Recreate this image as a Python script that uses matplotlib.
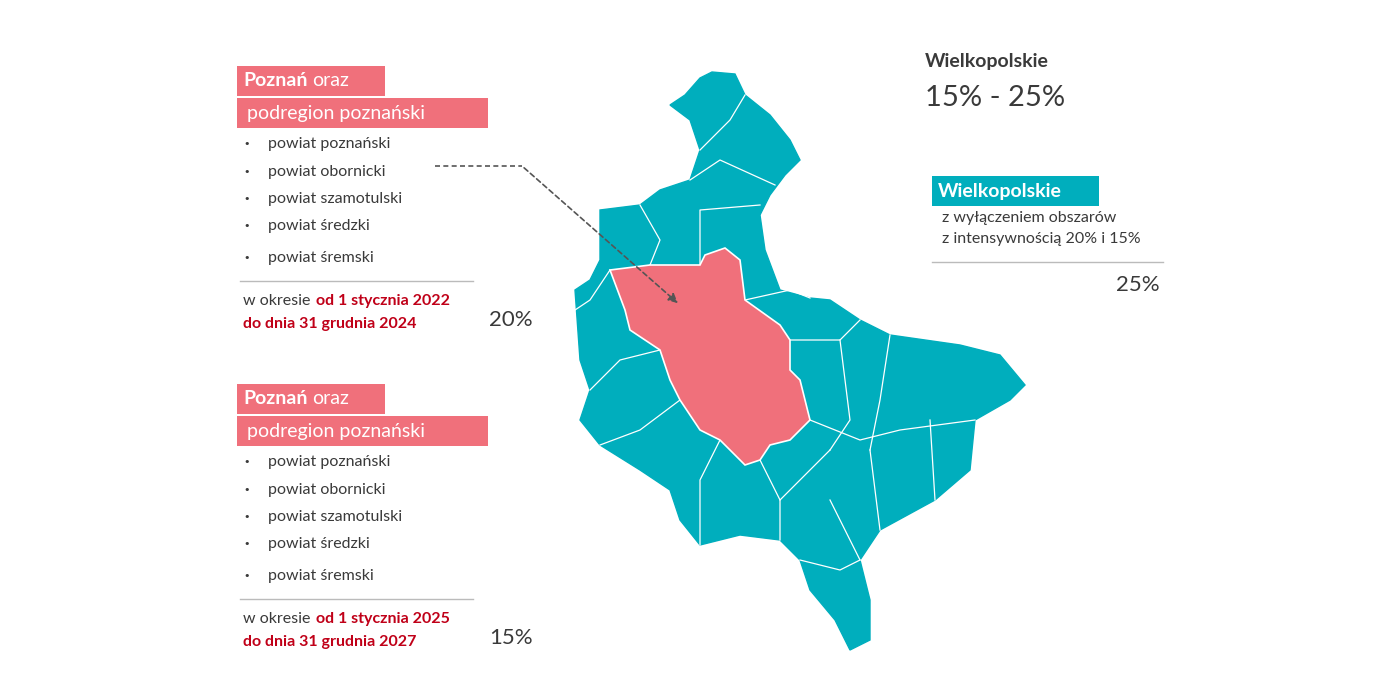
import matplotlib
matplotlib.use("Agg")
import matplotlib.pyplot as plt
from matplotlib.patches import Polygon, FancyArrowPatch

TEAL = "#00AEBD"; PINK = "#F0707B"; RED = "#C00018"; DARK = "#3a3a3a"
FONT = "Lato"

# map shapes (pixel space)
region_outline = [(700,78),(712,72),(735,74),(745,95),(770,115),(790,140),(800,160),(785,175),(770,195),
    (760,215),(765,250),(780,290),(810,298),(830,300),(860,320),(890,335),(960,345),(1000,355),(1025,385),
    (1010,400),(975,420),(970,470),(935,500),(880,530),(860,560),(870,600),(870,640),(850,650),(835,620),
    (810,590),(800,560),(780,540),(740,535),(700,545),(680,520),(670,490),(640,470),(600,445),(580,420),
    (590,390),(580,360),(575,290),(590,280),(600,260),(600,210),(640,205),(660,190),(690,180),(700,150),
    (690,120),(670,105),(685,95)]
poznan_area = [(610,270),(650,265),(700,265),(705,255),(725,248),(740,260),(745,300),(780,325),(790,340),
    (790,370),(800,380),(810,420),(790,440),(770,445),(760,460),(745,465),(720,440),(700,430),(680,400),
    (670,380),(660,350),(630,330),(625,310)]
borders = [
    [(690,180),(720,160),(775,185)], [(700,150),(730,120),(745,95)], [(640,205),(660,240),(650,265)],
    [(700,265),(700,210),(760,205)], [(745,300),(790,290),(810,298)], [(790,340),(840,340),(860,320)],
    [(890,335),(880,400),(870,450)], [(840,340),(850,420),(830,450)], [(810,420),(860,440),(900,430),(975,420)],
    [(870,450),(880,530)], [(760,460),(780,500),(780,540)], [(720,440),(700,480),(700,545)],
    [(680,400),(640,430),(600,445)], [(660,350),(620,360),(590,390)], [(610,270),(590,300),(575,310)],
    [(830,450),(800,480),(780,500)], [(830,500),(860,560)], [(800,560),(840,570),(860,560)], [(930,420),(935,500)]]

bullets = ["powiat poznański", "powiat obornicki", "powiat szamotulski", "powiat średzki", "powiat śremski"]
bullet_dy = [0, 28, 55, 82, 114]
periods = [("od 1 stycznia 2022", "do dnia 31 grudnia 2024", "20%"),
           ("od 1 stycznia 2025", "do dnia 31 grudnia 2027", "15%")]
block_y = [80, 398]

fig = plt.figure(figsize=(13.86, 6.93), dpi=100)
ax = fig.add_axes([0, 0, 1, 1]); ax.set_xlim(0, 1386); ax.set_ylim(693, 0); ax.axis("off")
r = fig.canvas.get_renderer()

ax.add_patch(Polygon(region_outline, closed=True, fc=TEAL, ec=TEAL, lw=1))
ax.add_patch(Polygon(poznan_area, closed=True, fc=PINK, ec="white", lw=1.2, zorder=3))
for b in borders:
    xs, ys = zip(*b); ax.plot(xs, ys, color="white", lw=0.9, zorder=2)

def width(t):
    bb = t.get_window_extent(r); inv = ax.transData.inverted()
    return inv.transform((bb.x1, 0))[0]

for y0, (p1, p2, pct) in zip(block_y, periods):
    ax.add_patch(plt.Rectangle((237, y0 - 14), 148, 30, fc=PINK, ec="none"))
    t = ax.text(243, y0, "Poznań", fontsize=14, weight="bold", color="white", family=FONT, va="center")
    ax.text(width(t) + 5, y0, "oraz", fontsize=14, color="white", family=FONT, va="center")
    ax.add_patch(plt.Rectangle((237, y0 + 18), 251, 30, fc=PINK, ec="none"))
    ax.text(247, y0 + 33, "podregion poznański", fontsize=14, color="white", family=FONT, va="center")
    for s, d in zip(bullets, bullet_dy):
        yy = y0 + 64 + d
        ax.text(243, yy, "•", fontsize=8, color=DARK, va="center")
        ax.text(268, yy, s, fontsize=11.5, color=DARK, family=FONT, va="center")
    ly = y0 + 201
    ax.plot([240, 473], [ly, ly], color="#bbbbbb", lw=1)
    t = ax.text(243, ly + 20, "w okresie ", fontsize=11.5, color=DARK, family=FONT, va="center")
    ax.text(width(t) + 2, ly + 20, p1, fontsize=11.5, color=RED, weight="bold", family=FONT, va="center")
    ax.text(243, ly + 43, p2, fontsize=11.5, color=RED, weight="bold", family=FONT, va="center")
    ax.text(489, ly + 39, pct, fontsize=16, color=DARK, family=FONT, va="center")

ax.plot([435, 522], [166, 166], color="#555555", lw=1.2, ls=(0, (3, 2)))
ax.add_patch(FancyArrowPatch((522, 166), (680, 305), arrowstyle="-|>", mutation_scale=14,
                             color="#555555", lw=1.2, ls=(0, (3, 2)), zorder=5))

ax.text(925, 62, "Wielkopolskie", fontsize=14, weight="bold", color=DARK, family=FONT, va="center")
ax.text(925, 98, "15% - 25%", fontsize=21, color=DARK, family=FONT, va="center")
ax.add_patch(plt.Rectangle((932, 176), 167, 30, fc=TEAL, ec="none"))
ax.text(938, 191, "Wielkopolskie", fontsize=14, weight="bold", color="white", family=FONT, va="center")
ax.text(942, 218, "z wyłączeniem obszarów", fontsize=11.5, color=DARK, family=FONT, va="center")
ax.text(942, 239, "z intensywnością 20% i 15%", fontsize=11.5, color=DARK, family=FONT, va="center")
ax.plot([932, 1163], [262, 262], color="#bbbbbb", lw=1)
ax.text(1160, 285, "25%", fontsize=16, color=DARK, family=FONT, va="center", ha="right")

fig.savefig("out.png", dpi=100, facecolor="white")
